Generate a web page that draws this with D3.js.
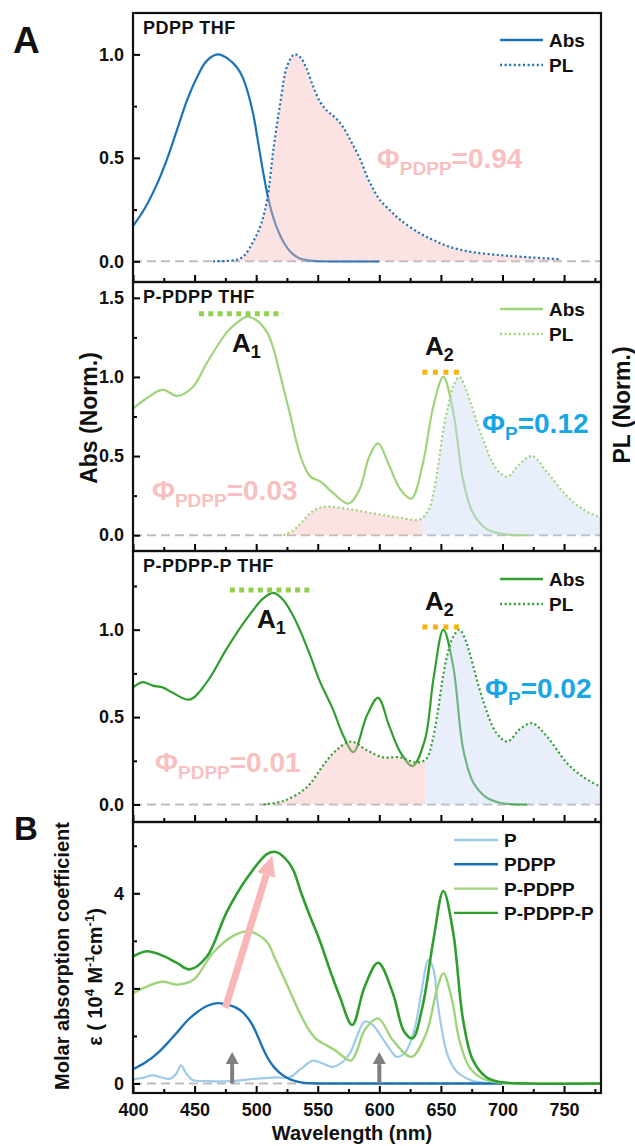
<!DOCTYPE html>
<html>
<head>
<meta charset="utf-8">
<script src="https://cdn.jsdelivr.net/npm/d3@7/dist/d3.min.js"></script>
<style>
  body { margin: 0; background: #fff; }
  svg text { font-family: "Liberation Sans", Arial, sans-serif; }
</style>
</head>
<body>
<svg id="chart" width="635" height="1146"></svg>
<script>
// ---- data (wavelength nm, value) ----
const pdppAbs = [[400,0.17],[410,0.26],[420,0.38],[428,0.50],[436,0.64],[444,0.78],[452,0.89],[460,0.97],[469,1.0],[478,0.975],[484,0.94],[489,0.89],[494,0.80],[498,0.70],[502,0.56],[506,0.42],[510,0.30],[514,0.21],[518,0.145],[523,0.085],[528,0.045],[535,0.015],[545,0.003],[560,0],[600,0]];
const pdppPL = [[465,0],[481,0.005],[489,0.02],[498,0.10],[504,0.18],[509,0.30],[514,0.54],[520,0.78],[525,0.94],[531,1.0],[536,0.985],[541,0.93],[546,0.85],[552,0.77],[558,0.725],[565,0.69],[571,0.645],[577,0.58],[584,0.50],[590,0.41],[595,0.35],[600,0.30],[608,0.25],[617,0.20],[633,0.135],[645,0.10],[657,0.07],[675,0.045],[698,0.03],[720,0.02],[747,0.01]];

const ppdppAbs = [[400,0.80],[412,0.87],[424,0.92],[436,0.88],[449,0.94],[460,1.09],[476,1.28],[484,1.34],[492,1.38],[500,1.36],[509,1.28],[514,1.18],[519,1.03],[527,0.78],[536,0.50],[544,0.37],[552,0.34],[562,0.27],[575,0.20],[584,0.29],[592,0.50],[599,0.58],[608,0.44],[617,0.29],[626,0.23],[635,0.44],[644,0.82],[652,1.0],[660,0.78],[668,0.35],[676,0.14],[687,0.04],[698,0.01],[720,0]];
const ppdppPL = [[522,0],[530,0.03],[537,0.08],[544,0.14],[552,0.175],[560,0.18],[575,0.165],[590,0.145],[605,0.125],[617,0.11],[633,0.10],[640,0.16],[644,0.27],[648,0.45],[652,0.67],[656,0.82],[660,0.94],[665,1.0],[670,0.93],[674,0.84],[684,0.61],[695,0.42],[704,0.37],[714,0.45],[724,0.50],[736,0.40],[752,0.25],[765,0.165],[780,0.11]];

const ppdpppAbs = [[400,0.67],[408,0.70],[416,0.68],[424,0.67],[432,0.64],[446,0.60],[460,0.70],[476,0.89],[492,1.06],[506,1.18],[514,1.21],[522,1.17],[530,1.08],[536,0.99],[544,0.85],[552,0.70],[562,0.55],[571,0.39],[579,0.30],[590,0.51],[599,0.61],[608,0.45],[617,0.30],[627,0.22],[637,0.37],[644,0.72],[652,1.0],[660,0.79],[668,0.32],[676,0.13],[687,0.04],[698,0.01],[720,0]];
const ppdpppPL = [[506,0],[522,0.02],[536,0.07],[544,0.12],[554,0.22],[565,0.31],[577,0.36],[590,0.31],[603,0.27],[617,0.27],[630,0.24],[638,0.26],[643,0.36],[647,0.51],[651,0.70],[655,0.85],[660,0.96],[665,1.0],[670,0.94],[674,0.85],[684,0.60],[695,0.41],[704,0.36],[714,0.43],[724,0.465],[736,0.39],[752,0.24],[765,0.16],[780,0.10]];

// panel B, molar absorption coefficient (10^4 M-1 cm-1)
const epsP = [[400,0.08],[408,0.12],[416,0.17],[424,0.12],[430,0.10],[435,0.20],[439,0.38],[443,0.22],[448,0.08],[460,0.05],[480,0.05],[500,0.10],[515,0.13],[527,0.13],[536,0.30],[546,0.48],[554,0.42],[562,0.35],[570,0.45],[576,0.63],[582,1.0],[588,1.30],[594,1.25],[600,1.05],[607,0.78],[614,0.56],[620,0.62],[625,0.85],[630,1.3],[634,1.9],[640,2.6],[644,2.4],[647,1.76],[651,1.1],[655,0.63],[660,0.35],[665,0.2],[676,0.05],[687,0.01],[700,0]];
const epsPDPP = [[400,0.30],[410,0.44],[420,0.64],[428,0.85],[436,1.08],[444,1.32],[452,1.50],[460,1.63],[469,1.69],[478,1.65],[484,1.59],[489,1.50],[494,1.35],[498,1.18],[502,0.95],[506,0.71],[510,0.51],[514,0.36],[518,0.25],[523,0.15],[528,0.08],[535,0.03],[545,0.005],[560,0],[700,0]];
const epsPPDPP = [[400,1.9],[412,2.05],[424,2.14],[436,2.08],[449,2.18],[465,2.75],[481,3.1],[492,3.2],[500,3.15],[509,2.97],[515,2.65],[522,2.25],[529,1.85],[536,1.45],[543,1.12],[549,0.93],[556,0.82],[564,0.70],[571,0.56],[577,0.48],[582,0.70],[588,1.12],[599,1.37],[611,0.91],[626,0.56],[638,1.05],[647,2.0],[652,2.32],[659,1.76],[665,0.91],[673,0.35],[684,0.10],[698,0.02],[720,0],[780,0]];
const epsPPDPPP = [[400,2.67],[411,2.78],[424,2.69],[436,2.53],[446,2.40],[460,2.67],[476,3.6],[492,4.3],[509,4.83],[516,4.87],[523,4.75],[530,4.5],[536,4.05],[544,3.5],[552,2.98],[560,2.38],[568,1.82],[578,1.23],[588,2.03],[599,2.54],[611,1.9],[620,1.1],[627,0.95],[635,1.61],[644,3.03],[652,4.05],[660,3.17],[668,1.34],[676,0.49],[687,0.13],[698,0.03],[720,0],[780,0]];

const xMajor = [400, 450, 500, 550, 600, 650, 700, 750];
const xMinor = [425, 475, 525, 575, 625, 675, 725, 775];

const cBlue = '#1b72b5', cLightBlue = '#9fcbe8', cLightGreen = '#9fd47b', cGreen = '#2f9e2f';
const phiPink = '#f8c0c0', phiBlue = '#18a6e6';

const svg = d3.select('#chart');
const x = d3.scaleLinear().domain([400, 780]).range([133, 601]);

const panels = [
  {top: 13, bottom: 282, domain: [-0.1, 1.2], major: [0, 0.5, 1.0], minor: [0.25, 0.75], fmt: d3.format('.1f')},
  {top: 282, bottom: 551, domain: [-0.1, 1.6], major: [0, 0.5, 1.0, 1.5], minor: [0.25, 0.75, 1.25], fmt: d3.format('.1f')},
  {top: 551, bottom: 822, domain: [-0.1, 1.45], major: [0, 0.5, 1.0], minor: [0.25, 0.75, 1.25], fmt: d3.format('.1f')},
  {top: 822, bottom: 1093, domain: [-0.2, 5.5], major: [0, 2, 4], minor: [1, 3, 5], fmt: d3.format('d')}
];

function makePanel(p, i) {
  const y = d3.scaleLinear().domain(p.domain).range([p.bottom, p.top]);
  const clipId = 'clip' + i;
  svg.append('clipPath').attr('id', clipId).append('rect')
    .attr('x', x(400)).attr('y', p.top).attr('width', x(780) - x(400)).attr('height', p.bottom - p.top);
  const g = svg.append('g').attr('clip-path', `url(#${clipId})`);

  // zero line
  g.append('line')
    .attr('x1', x(400)).attr('x2', x(780)).attr('y1', y(0)).attr('y2', y(0))
    .attr('stroke', '#bdbdbd').attr('stroke-width', 2).attr('stroke-dasharray', '9,5');

  const ax = svg.append('g');
  // y ticks
  ax.append('g').attr('transform', `translate(${x(400)},0)`)
    .call(d3.axisLeft(y).tickValues(p.major).tickSize(-7).tickPadding(9).tickFormat(p.fmt))
    .call(s => s.select('.domain').remove())
    .call(s => s.selectAll('line').attr('stroke-width', 2))
    .call(s => s.selectAll('text').attr('font-size', 18).attr('font-weight', 'bold').attr('fill', '#111'));
  ax.append('g').attr('transform', `translate(${x(400)},0)`)
    .call(d3.axisLeft(y).tickValues(p.minor).tickSize(-4).tickFormat(''))
    .call(s => s.select('.domain').remove())
    .call(s => s.selectAll('line').attr('stroke-width', 2));
  // x ticks
  ax.append('g').attr('transform', `translate(0,${p.bottom})`)
    .call(d3.axisBottom(x).tickValues(xMajor).tickSize(-7).tickPadding(10).tickFormat(i === 3 ? d3.format('d') : ''))
    .call(s => s.select('.domain').remove())
    .call(s => s.selectAll('line').attr('stroke-width', 2))
    .call(s => s.selectAll('text').attr('font-size', 18).attr('font-weight', 'bold').attr('fill', '#111'));
  ax.append('g').attr('transform', `translate(0,${p.bottom})`)
    .call(d3.axisBottom(x).tickValues(xMinor).tickSize(-4).tickFormat(''))
    .call(s => s.select('.domain').remove())
    .call(s => s.selectAll('line').attr('stroke-width', 2));

  return {y, g, clipId};
}

const built = panels.map(makePanel);

const curve = d3.curveCatmullRom.alpha(0.5);
function lineGen(y) {
  return d3.line().x(d => x(d[0])).y(d => y(Math.max(0, d[1]))).curve(curve);
}
function areaGen(y) {
  return d3.area().x(d => x(d[0])).y0(y(0)).y1(d => y(d[1])).curve(curve);
}

function fillPart(P, data, from, to, color, id) {
  svg.append('clipPath').attr('id', id).append('rect')
    .attr('x', x(from)).attr('y', 0).attr('width', x(to) - x(from)).attr('height', 1146);
  P.g.append('g').attr('clip-path', `url(#${id})`)
    .append('path').datum(data).attr('d', areaGen(P.y))
    .attr('fill', color).attr('fill-opacity', 0.42);
}

function drawLine(P, data, color, dotted, w) {
  P.g.append('path').datum(data).attr('d', lineGen(P.y))
    .attr('fill', 'none').attr('stroke', color).attr('stroke-width', w || 2.2)
    .attr('stroke-dasharray', dotted ? '2,2.6' : null);
}

function legend(items, x0, y0, dy, len) {
  items.forEach((it, k) => {
    const yy = y0 + k * dy;
    svg.append('line').attr('x1', x0).attr('x2', x0 + len).attr('y1', yy).attr('y2', yy)
      .attr('stroke', it.color).attr('stroke-width', 2.4).attr('stroke-dasharray', it.dotted ? '2,2.6' : null);
    svg.append('text').attr('x', x0 + len + 6).attr('y', yy + 7).text(it.label)
      .attr('font-size', 19).attr('font-weight', 'bold').attr('fill', '#111');
  });
}

function phiText(P, nm, v, sub, rest, color) {
  const t = svg.append('text').attr('x', x(nm)).attr('y', P.y(v))
    .attr('font-weight', 'bold').attr('fill', color).attr('font-size', 28);
  t.append('tspan').text('Φ');
  t.append('tspan').attr('font-size', 19).attr('dy', 7).text(sub);
  t.append('tspan').attr('dy', -7).text(rest);
}

function aLabel(P, nm, v, sub) {
  const t = svg.append('text').attr('x', x(nm)).attr('y', P.y(v))
    .attr('font-size', 26).attr('font-weight', 'bold').attr('fill', '#111');
  t.append('tspan').text('A');
  t.append('tspan').attr('font-size', 18).attr('dy', 6).text(sub);
}

function bar(P, a, b, v, color, dash) {
  svg.append('line').attr('x1', x(a)).attr('x2', x(b)).attr('y1', P.y(v)).attr('y2', P.y(v))
    .attr('stroke', color).attr('stroke-width', 5).attr('stroke-dasharray', dash);
}

function title(i, txt) {
  svg.append('text').attr('x', 143).attr('y', panels[i].top + 21).text(txt)
    .attr('font-size', 18).attr('font-weight', 'bold').attr('letter-spacing', 0.5).attr('fill', '#111');
}

// ---- panel A1: PDPP ----
let P = built[0];
drawLine(P, pdppAbs, cBlue, false);
fillPart(P, pdppPL, 400, 780, '#f7bcbc', 'f0');
drawLine(P, pdppPL, cBlue, true);
title(0, 'PDPP THF');
legend([{label: 'Abs', color: cBlue}, {label: 'PL', color: cBlue, dotted: true}], 500, 40, 25, 43);
phiText(P, 598, 0.45, 'PDPP', '=0.94', phiPink);

// ---- panel A2: P-PDPP ----
P = built[1];
drawLine(P, ppdppAbs, cLightGreen, false);
fillPart(P, ppdppPL, 400, 635, '#f7bcbc', 'f1a');
fillPart(P, ppdppPL, 635, 780, '#c9daf5', 'f1b');
drawLine(P, ppdppPL, cLightGreen, true);
title(1, 'P-PDPP THF');
legend([{label: 'Abs', color: cLightGreen}, {label: 'PL', color: cLightGreen, dotted: true}], 500, 309, 25, 43);
bar(P, 453.6, 521.8, 1.40, '#8fd14f', '5,4.3');
bar(P, 635, 665, 1.03, '#f6b40a', '5,5.5');
aLabel(P, 480.4, 1.158, '1');
aLabel(P, 637.1, 1.14, '2');
phiText(P, 415.4, 0.22, 'PDPP', '=0.03', phiPink);
phiText(P, 683.4, 0.645, 'P', '=0.12', phiBlue);

// ---- panel A3: P-PDPP-P ----
P = built[2];
drawLine(P, ppdpppAbs, cGreen, false);
fillPart(P, ppdpppPL, 400, 637, '#f7bcbc', 'f2a');
fillPart(P, ppdpppPL, 637, 780, '#c9daf5', 'f2b');
drawLine(P, ppdpppPL, cGreen, true);
title(2, 'P-PDPP-P THF');
legend([{label: 'Abs', color: cGreen}, {label: 'PL', color: cGreen, dotted: true}], 500, 579, 25, 43);
bar(P, 478.7, 546.9, 1.227, '#8fd14f', '5,4.3');
bar(P, 635, 664.6, 1.015, '#f6b40a', '5,5.5');
aLabel(P, 500.7, 1.01, '1');
aLabel(P, 637.1, 1.11, '2');
phiText(P, 417.9, 0.186, 'PDPP', '=0.01', phiPink);
phiText(P, 685.8, 0.609, 'P', '=0.02', phiBlue);

// ---- panel B ----
P = built[3];
drawLine(P, epsP, cLightBlue, false, 2.2);
drawLine(P, epsPDPP, cBlue, false, 2.4);
drawLine(P, epsPPDPP, cLightGreen, false, 2.4);
drawLine(P, epsPPDPPP, cGreen, false, 2.6);
legend([{label: 'P', color: cLightBlue}, {label: 'PDPP', color: cBlue},
        {label: 'P-PDPP', color: cLightGreen}, {label: 'P-PDPP-P', color: cGreen}], 454, 840, 24.3, 44);

function arrow(P, x1, y1, x2, y2, color, w, headW, headL) {
  const ax1 = x(x1), ay1 = P.y(y1), ax2 = x(x2), ay2 = P.y(y2);
  const ang = Math.atan2(ay2 - ay1, ax2 - ax1);
  const bx = ax2 - headL * Math.cos(ang), by = ay2 - headL * Math.sin(ang);
  svg.append('line').attr('x1', ax1).attr('y1', ay1).attr('x2', bx).attr('y2', by)
    .attr('stroke', color).attr('stroke-width', w);
  const nx = -Math.sin(ang) * headW / 2, ny = Math.cos(ang) * headW / 2;
  svg.append('path')
    .attr('d', `M${ax2},${ay2}L${bx + nx},${by + ny}L${bx - nx},${by - ny}Z`)
    .attr('fill', color);
}
arrow(P, 475, 1.59, 513, 4.79, '#f8b8b8', 7, 19, 20);
arrow(P, 480.5, 0, 480.5, 0.66, '#7f7f7f', 4, 13, 12);
arrow(P, 600, 0, 600, 0.66, '#7f7f7f', 4, 13, 12);

// ---- frames ----
panels.forEach(p => {
  svg.append('rect').attr('x', x(400)).attr('y', p.top).attr('width', x(780) - x(400)).attr('height', p.bottom - p.top)
    .attr('fill', 'none').attr('stroke', '#111').attr('stroke-width', 2.2);
});

// ---- axis titles and panel letters ----
svg.append('text').attr('transform', 'translate(97,418) rotate(-90)').attr('text-anchor', 'middle')
  .attr('font-size', 23).attr('font-weight', 'bold').attr('fill', '#111').text('Abs (Norm.)');
svg.append('text').attr('transform', 'translate(630,405) rotate(-90)').attr('text-anchor', 'middle')
  .attr('font-size', 23).attr('font-weight', 'bold').attr('fill', '#111').text('PL (Norm.)');
svg.append('text').attr('transform', 'translate(69,956) rotate(-90)').attr('text-anchor', 'middle')
  .attr('font-size', 20).attr('font-weight', 'bold').attr('fill', '#111').text('Molar absorption coefficient');
const eps = svg.append('text').attr('transform', 'translate(102,977) rotate(-90)').attr('text-anchor', 'middle')
  .attr('font-size', 20).attr('font-weight', 'bold').attr('fill', '#111');
eps.append('tspan').text('ε ( 10');
eps.append('tspan').attr('font-size', 13).attr('dy', -8).text('4');
eps.append('tspan').attr('dy', 8).text(' M');
eps.append('tspan').attr('font-size', 13).attr('dy', -8).text('-1');
eps.append('tspan').attr('dy', 8).text('cm');
eps.append('tspan').attr('font-size', 13).attr('dy', -8).text('-1');
eps.append('tspan').attr('dy', 8).text(')');
svg.append('text').attr('x', 352).attr('y', 1140).attr('text-anchor', 'middle')
  .attr('font-size', 20).attr('font-weight', 'bold').attr('fill', '#111').text('Wavelength (nm)');
svg.append('text').attr('x', 13).attr('y', 53).attr('font-size', 37).attr('font-weight', 'bold').attr('fill', '#111').text('A');
svg.append('text').attr('x', 14).attr('y', 840).attr('font-size', 33).attr('font-weight', 'bold').attr('fill', '#111').text('B');
</script>
</body>
</html>
